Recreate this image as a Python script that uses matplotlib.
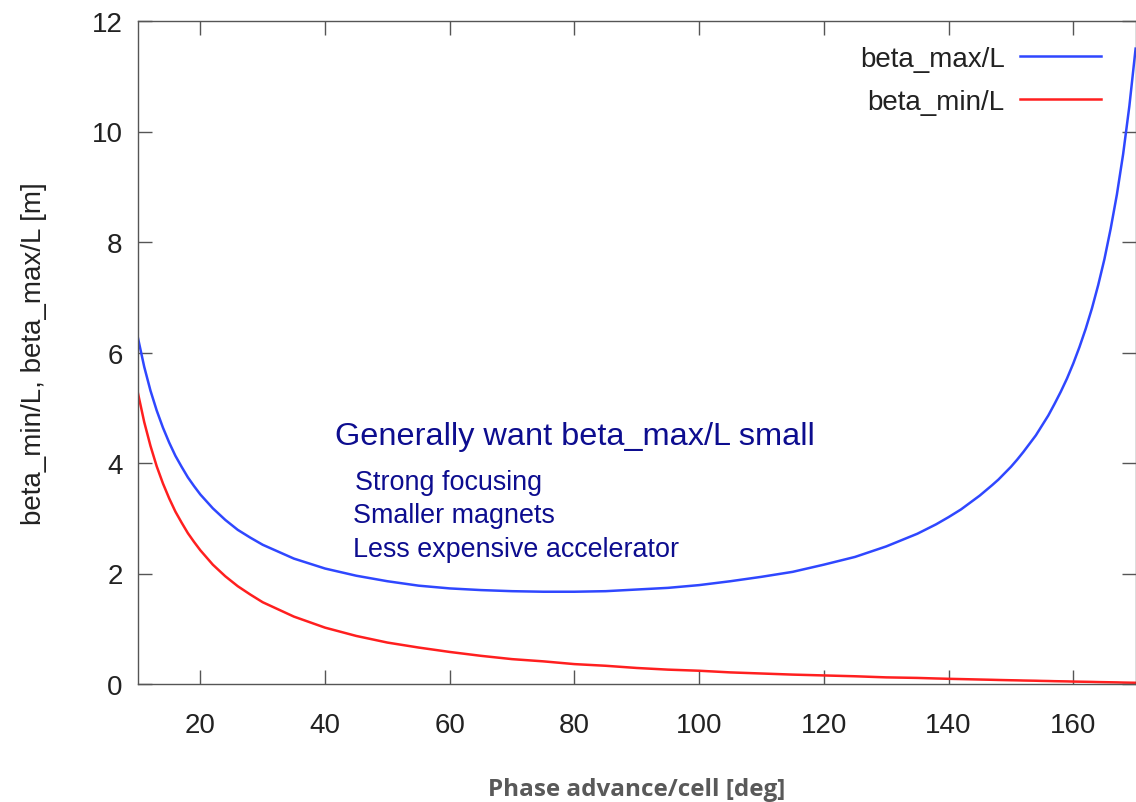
import matplotlib
matplotlib.use("Agg")
import matplotlib.pyplot as plt

# phase advance per cell [deg]
phase = [10, 11, 12, 13, 14, 15, 16, 17, 18, 19, 20,
         22, 24, 26, 28, 30,
         35, 40, 45, 50, 55, 60, 65, 70, 75, 80, 85, 90, 95, 100, 105, 110,
         115, 120, 125, 130, 135,
         138, 140, 142, 145, 147, 148,
         150, 151, 152, 153, 154, 155, 156, 157, 158, 159, 160, 161, 162,
         163, 164, 165, 166, 167, 168, 169, 170]

beta_max = [6.26, 5.74, 5.31, 4.95, 4.64, 4.37, 4.13, 3.93, 3.74, 3.58, 3.43,
            3.18, 2.97, 2.79, 2.65, 2.52,
            2.27, 2.09, 1.96, 1.86, 1.78, 1.73, 1.70, 1.68, 1.67, 1.67, 1.68,
            1.71, 1.74, 1.79, 1.86, 1.94, 2.03, 2.16, 2.30, 2.49, 2.72,
            2.89, 3.02, 3.16, 3.41, 3.60, 3.70,
            3.93, 4.06, 4.20, 4.35, 4.50, 4.68, 4.86, 5.07, 5.29, 5.53, 5.80,
            6.10, 6.43, 6.80, 7.22, 7.69, 8.24, 8.86, 9.59, 10.46, 11.50]
beta_min = [5.26, 4.74, 4.31, 3.94, 3.63, 3.36, 3.12, 2.92, 2.73, 2.57, 2.42,
            2.16, 1.95, 1.77, 1.62, 1.48,
            1.22, 1.02, 0.87, 0.75, 0.66, 0.58, 0.51, 0.45, 0.41, 0.36, 0.33,
            0.29, 0.26, 0.24, 0.21, 0.19, 0.17, 0.155, 0.14, 0.12, 0.11,
            0.10, 0.094, 0.089, 0.081, 0.076, 0.073,
            0.068, 0.066, 0.063, 0.061, 0.059, 0.056, 0.054, 0.051, 0.049,
            0.047, 0.044, 0.042, 0.040, 0.038, 0.035, 0.033, 0.031, 0.029,
            0.026, 0.024, 0.022]

notes = ["Strong focusing", "Smaller magnets", "Less expensive accelerator"]

plt.rcParams['font.family'] = ['Liberation Sans', 'DejaVu Sans']

fig = plt.figure(figsize=(11.36, 8.03), dpi=100)
ax = fig.add_axes([138 / 1136, 1 - 685 / 803, 997.6 / 1136, 663 / 803])

ax.plot(phase, beta_max, color='#2f47ff', lw=1.8, label='beta_max/L')
ax.plot(phase, beta_min, color='#ff1f1f', lw=1.8, label='beta_min/L')

ax.set_xlim(10, 170)
ax.set_ylim(0, 12)
ax.set_xticks(range(20, 161, 20))
ax.set_yticks(range(0, 13, 2))

edge = '#555555'
for s in ax.spines.values():
    s.set_color(edge)
    s.set_linewidth(1.0)
ax.tick_params(axis='both', direction='in', length=10, width=1.0, color=edge,
               labelsize=20, labelcolor='#222222', top=True, right=True)
ax.tick_params(axis='x', pad=20)
ax.tick_params(axis='y', pad=11)

ax.set_ylabel('beta_min/L, beta_max/L [m]', fontsize=20, color='#222222')
ax.yaxis.set_label_coords(-0.091, 0.5)
ax.set_xlabel('Phase advance/cell [deg]', fontsize=17.5, fontweight='bold',
              color='#595959', family=['Open Sans', 'DejaVu Sans'], va='center')
ax.xaxis.set_label_coords(0.5, -0.158)

leg = ax.legend(loc='upper right', bbox_to_anchor=(0.99, 1.0), frameon=False,
                markerfirst=False, fontsize=20, handlelength=2.9,
                handletextpad=0.55, labelspacing=0.6)
for t in leg.get_texts():
    t.set_color('#222222')

navy = '#0d0d8f'
ax.text(41.6, 4.34, 'Generally want beta_max/L small', fontsize=23.4, color=navy,
        va='baseline', ha='left')
for s, x, y in zip(notes, [44.8, 44.5, 44.5], [3.53, 2.93, 2.32]):
    ax.text(x, y, s, fontsize=19.4, color=navy, va='baseline', ha='left')

fig.savefig('out.png', dpi=100)
